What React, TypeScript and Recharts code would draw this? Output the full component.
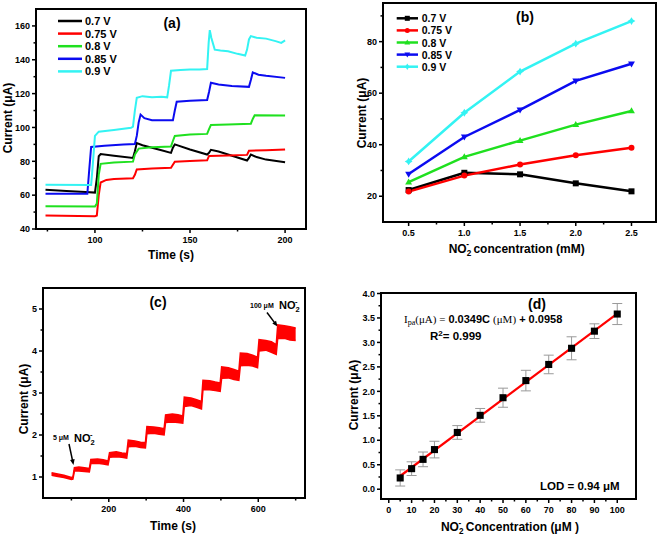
import {
  LineChart,
  Line,
  Area,
  ComposedChart,
  Scatter,
  ErrorBar,
  ZAxis,
  XAxis,
  YAxis,
  ReferenceArea,
} from "recharts";

const SANS = '"Liberation Sans", Arial, sans-serif';
const SERIF = '"Liberation Serif", "Times New Roman", serif';

// ---------- (a) amperometric traces at different potentials ----------
const A_X_TICKS = [75, 100, 125, 150, 175, 200];
const A_X_LABELS = [100, 150, 200];
const A_Y_TICKS = [40, 50, 60, 70, 80, 90, 100, 110, 120, 130, 140, 150, 160];
const A_Y_LABELS = [40, 60, 80, 100, 120, 140, 160];

const trace07: [number, number][] = [
  [74, 63.2], [85, 62.5], [95, 61.8], [100, 61.5], [101, 70], [102, 83], [103, 84.3],
  [110, 83.3], [120, 82], [121, 86], [122, 90.8], [125, 89.5], [135, 86.5], [140, 85],
  [141, 88], [142, 90], [150, 87], [159, 84], [160, 85], [161, 86.8], [165, 85.8],
  [170, 84], [180, 80.5], [181, 82], [182, 84], [185, 82.5], [190, 81], [200, 79.5],
];
const trace075: [number, number][] = [
  [74, 48], [100, 47.6], [101, 48], [102, 60], [103, 67.5], [106, 69], [110, 69.5],
  [120, 70], [121, 72], [122, 75.2], [130, 75.8], [140, 76.2], [141, 78], [142, 79.8],
  [150, 80.2], [159, 80.6], [160, 83.2], [170, 83.5], [180, 83.8], [181, 86.2],
  [190, 86.6], [200, 87],
];
const trace08: [number, number][] = [
  [74, 53.4], [100, 53.3], [101, 55], [102, 72], [103, 78.5], [110, 79.3], [120, 79.8],
  [121, 84], [123, 87.5], [130, 88.3], [140, 88.8], [141, 92], [142, 95], [150, 95.8],
  [159, 96.2], [160, 99], [161, 101.5], [170, 101.8], [182, 102.2], [183, 105],
  [184, 107.2], [200, 107],
];
const trace085: [number, number][] = [
  [74, 60.8], [96, 60.8], [97, 75], [98, 88.5], [105, 89.2], [115, 90], [121, 90.2],
  [122, 95], [123, 103], [124, 107.6], [126, 105.5], [130, 104.3], [141, 104.2],
  [142, 110], [143, 115.2], [150, 115.8], [159, 116.2], [160, 121], [161, 126.4],
  [165, 125.4], [172, 124.5], [181, 124], [182, 128], [183, 132.5], [186, 131.2],
  [190, 130.5], [200, 129.3],
];
const trace09: [number, number][] = [
  [74, 66.2], [98, 66], [99, 80], [100, 95], [102, 97.5], [110, 98.5], [119, 99.8],
  [120, 100.5], [121, 110], [122, 117.5], [125, 118.5], [130, 117.8], [135, 118.2],
  [138, 117.8], [139, 125], [140, 133.5], [145, 134], [150, 134.2], [155, 134.3],
  [159, 134.5], [159.8, 150], [160.4, 157.5], [161.2, 153], [163, 146], [166, 145.5],
  [170, 145], [175, 143.5], [179, 142.5], [180, 146], [181, 152], [182, 154],
  [185, 153], [190, 152.5], [195, 151], [198, 150], [200, 151.5],
];

// ---------- (b) current vs concentration ----------
const B_CONC = [0.5, 1.0, 1.5, 2.0, 2.5];
const b07 = [22.4, 29.1, 28.5, 25.0, 21.9];
const b075 = [21.8, 28.0, 32.3, 35.9, 38.8];
const b08 = [25.5, 35.3, 41.6, 47.8, 53.1];
const b085 = [28.6, 43.0, 53.5, 64.8, 71.4];
const b09 = [33.5, 52.4, 68.4, 79.2, 88.0];
const B_X_TICKS = [0.5, 0.75, 1.0, 1.25, 1.5, 1.75, 2.0, 2.25, 2.5];
const B_X_LABELS = [0.5, 1.0, 1.5, 2.0, 2.5];
const B_Y_TICKS = [20, 30, 40, 50, 60, 70, 80, 90];
const B_Y_LABELS = [20, 40, 60, 80];

// ---------- (c) amperometric response, noise band low/high ----------
const C_TIME = [
  47, 60, 80, 100, 104, 108, 120, 135, 148, 152, 170, 185, 198, 202, 220, 235, 248,
  252, 270, 285, 298, 302, 320, 335, 348, 352, 370, 385, 398, 402, 420, 435, 448,
  452, 470, 485, 498, 502, 520, 535, 548, 552, 570, 585, 598, 602, 620, 635, 648,
  652, 670, 685, 700,
];
const C_LOW = [
  1.04, 1.02, 0.99, 0.94, 0.95, 1.14, 1.14, 1.13, 1.12, 1.32, 1.33, 1.31, 1.29, 1.47,
  1.48, 1.47, 1.45, 1.72, 1.73, 1.7, 1.69, 2.03, 2.04, 2.02, 2.0, 2.3, 2.31, 2.3,
  2.28, 2.68, 2.7, 2.66, 2.62, 3.08, 3.08, 3.06, 3.04, 3.35, 3.36, 3.32, 3.3, 3.65,
  3.66, 3.64, 3.6, 4.0, 4.02, 3.97, 3.92, 4.3, 4.3, 4.26, 4.25,
];
const C_HIGH = [
  1.1, 1.08, 1.04, 0.99, 1.0, 1.22, 1.24, 1.22, 1.2, 1.42, 1.43, 1.41, 1.38, 1.58,
  1.6, 1.57, 1.56, 1.88, 1.86, 1.83, 1.82, 2.2, 2.19, 2.17, 2.15, 2.48, 2.5, 2.48,
  2.45, 2.9, 2.88, 2.84, 2.8, 3.3, 3.29, 3.26, 3.24, 3.62, 3.6, 3.56, 3.52, 3.95,
  3.94, 3.9, 3.85, 4.27, 4.25, 4.22, 4.15, 4.62, 4.6, 4.58, 4.55,
];
const C_X_TICKS = [100, 200, 300, 400, 500, 600, 700];
const C_X_LABELS = [200, 400, 600];
const C_Y_TICKS = [1, 1.5, 2, 2.5, 3, 3.5, 4, 4.5, 5];
const C_Y_LABELS = [1, 2, 3, 4, 5];

// ---------- (d) calibration ----------
const D_CONC = [5, 10, 15, 20, 30, 40, 50, 60, 70, 80, 90, 100];
const D_CURRENT = [0.23, 0.42, 0.61, 0.81, 1.16, 1.51, 1.87, 2.22, 2.55, 2.88, 3.23, 3.58];
const D_ERR = [0.165, 0.14, 0.15, 0.17, 0.14, 0.14, 0.195, 0.21, 0.19, 0.235, 0.15, 0.215];
const D_FIT_X = [5, 100];
const D_FIT_Y = [0.27, 3.59];
const D_X_TICKS = [0, 5, 10, 15, 20, 25, 30, 35, 40, 45, 50, 55, 60, 65, 70, 75, 80, 85, 90, 95, 100];
const D_X_LABELS = [0, 10, 20, 30, 40, 50, 60, 70, 80, 90, 100];
const D_Y_TICKS = [0, 0.25, 0.5, 0.75, 1, 1.25, 1.5, 1.75, 2, 2.25, 2.5, 2.75, 3, 3.25, 3.5, 3.75, 4];
const D_Y_LABELS = [0, 0.5, 1, 1.5, 2, 2.5, 3, 3.5, 4];

const isIn = (arr: number[], v: number) => arr.some((m) => Math.abs(m - v) < 1e-9);

function bottomTick(labels: number[], fmt: (v: number) => string) {
  return (p: any) => {
    const v = p.payload.value;
    const major = isIn(labels, v);
    return (
      <g>
        <line x1={p.x} x2={p.x} y1={p.y} y2={p.y + (major ? 4 : 2.5)} stroke="#000" strokeWidth={1.5} />
        {major && (
          <text x={p.x} y={p.y + 14} textAnchor="middle" fontSize={9} fontWeight="bold" fontFamily={SANS} fill="#000">
            {fmt(v)}
          </text>
        )}
      </g>
    );
  };
}

function leftTick(labels: number[], fmt: (v: number) => string) {
  return (p: any) => {
    const v = p.payload.value;
    const major = isIn(labels, v);
    return (
      <g>
        <line x1={p.x} x2={p.x - (major ? 4 : 2.5)} y1={p.y} y2={p.y} stroke="#000" strokeWidth={1.5} />
        {major && (
          <text x={p.x - 6} y={p.y + 3.2} textAnchor="end" fontSize={9} fontWeight="bold" fontFamily={SANS} fill="#000">
            {fmt(v)}
          </text>
        )}
      </g>
    );
  };
}

const axisCommon = {
  type: "number" as const,
  interval: 0 as const,
  allowDataOverflow: true,
  tickLine: false,
  axisLine: false,
  tickSize: 0,
  tickMargin: 0,
};

const titleStyle = { fontFamily: SANS, fontWeight: "bold" as const, fontSize: 12, fill: "#000" };

function YTitle({ x, y }: { x: number; y: number }) {
  return (
    <text x={x} y={y} transform={`rotate(-90 ${x} ${y})`} textAnchor="middle" dominantBaseline="central" {...titleStyle}>
      Current (μA)
    </text>
  );
}

// "NO2-" with subscript 2 and superscript minus, optional trailing text
function NO2({ size, rest }: { size: number; rest?: string }) {
  return (
    <>
      NO
      <tspan fontSize={size * 0.68} dy={size * 0.25}>2</tspan>
      <tspan fontSize={size * 0.68} dx={-size * 0.42} dy={-size * 0.7}>-</tspan>
      {rest && (
        <tspan dx={size * 0.1} dy={size * 0.45}>
          {"\u00a0" + rest}
        </tspan>
      )}
    </>
  );
}

function Frame({ x, y }: { x: number[]; y: number[] }) {
  return (
    <ReferenceArea
      x1={x[0]}
      x2={x[1]}
      y1={y[0]}
      y2={y[1]}
      fill="none"
      fillOpacity={0}
      stroke="#000"
      strokeWidth={2}
      ifOverflow="visible"
    />
  );
}

// ---------- panel (a) ----------
const A_SERIES = [
  { name: "0.7 V", color: "#000000", data: trace07 },
  { name: "0.75 V", color: "#ff0000", data: trace075 },
  { name: "0.8 V", color: "#1fe01f", data: trace08 },
  { name: "0.85 V", color: "#0b0bf0", data: trace085 },
  { name: "0.9 V", color: "#33f3f3", data: trace09 },
];
const A_XD = [69, 211];
const A_YD = [40, 170];

function PanelA() {
  return (
    <div style={{ position: "absolute", left: 0, top: 0 }}>
      <LineChart width={320} height={262} margin={{ top: 9, right: 14, bottom: 0, left: 0 }}>
        <XAxis {...axisCommon} dataKey="t" domain={A_XD} ticks={A_X_TICKS} height={33} tick={bottomTick(A_X_LABELS, String)} />
        <YAxis {...axisCommon} domain={A_YD} ticks={A_Y_TICKS} width={36} tick={leftTick(A_Y_LABELS, String)} />
        {A_SERIES.map((s) => (
          <Line
            key={s.name}
            data={s.data.map(([t, v]) => ({ t, v }))}
            dataKey="v"
            type="linear"
            stroke={s.color}
            strokeWidth={2}
            dot={false}
            isAnimationActive={false}
          />
        ))}
        <Frame x={A_XD} y={A_YD} />
        <g>
          {A_SERIES.map((s, i) => (
            <g key={s.name}>
              <line x1={58} x2={82} y1={21 + i * 12.6} y2={21 + i * 12.6} stroke={s.color} strokeWidth={2.5} />
              <text x={85} y={21 + i * 12.6 + 4} fontSize={11} fontWeight="bold" fontFamily={SANS}>
                {s.name}
              </text>
            </g>
          ))}
        </g>
        <text x={172} y={28} textAnchor="middle" fontSize={14} fontWeight="bold" fontFamily={SANS}>(a)</text>
        <YTitle x={8} y={118} />
        <text x={171} y={259} textAnchor="middle" {...titleStyle}>Time (s)</text>
      </LineChart>
    </div>
  );
}

// ---------- panel (b) ----------
type MarkerKind = "square" | "circle" | "up" | "down" | "diamond";
function Marker({ kind, cx, cy, color, r }: { kind: MarkerKind; cx: number; cy: number; color: string; r: number }) {
  if (kind === "square") return <rect x={cx - r} y={cy - r} width={2 * r} height={2 * r} fill={color} />;
  if (kind === "circle") return <circle cx={cx} cy={cy} r={r} fill={color} />;
  if (kind === "up")
    return <polygon points={`${cx},${cy - r * 1.2} ${cx + r * 1.15},${cy + r * 0.8} ${cx - r * 1.15},${cy + r * 0.8}`} fill={color} />;
  if (kind === "down")
    return <polygon points={`${cx},${cy + r * 1.2} ${cx + r * 1.15},${cy - r * 0.8} ${cx - r * 1.15},${cy - r * 0.8}`} fill={color} />;
  return (
    <polygon
      points={`${cx},${cy - r * 1.3} ${cx + r * 0.5},${cy - r * 0.5} ${cx + r * 1.3},${cy} ${cx + r * 0.5},${cy + r * 0.5} ${cx},${cy + r * 1.3} ${cx - r * 0.5},${cy + r * 0.5} ${cx - r * 1.3},${cy} ${cx - r * 0.5},${cy - r * 0.5}`}
      fill={color}
    />
  );
}

const B_SERIES: { key: string; name: string; color: string; kind: MarkerKind; values: number[] }[] = [
  { key: "s07", name: "0.7 V", color: "#000000", kind: "square", values: b07 },
  { key: "s075", name: "0.75 V", color: "#ff0000", kind: "circle", values: b075 },
  { key: "s08", name: "0.8 V", color: "#1fe01f", kind: "up", values: b08 },
  { key: "s085", name: "0.85 V", color: "#0b0bf0", kind: "down", values: b085 },
  { key: "s09", name: "0.9 V", color: "#33f3f3", kind: "diamond", values: b09 },
];
const B_ROWS = B_CONC.map((c, i) => {
  const row: Record<string, number> = { c };
  B_SERIES.forEach((s) => (row[s.key] = s.values[i]));
  return row;
});
const B_XD = [0.27, 2.72];
const B_YD = [10, 95];

function PanelB() {
  return (
    <div style={{ position: "absolute", left: 330, top: 0 }}>
      <LineChart width={331} height={260} data={B_ROWS} margin={{ top: 3, right: 5, bottom: 0, left: 0 }}>
        <XAxis {...axisCommon} dataKey="c" domain={B_XD} ticks={B_X_TICKS} height={38} tick={bottomTick(B_X_LABELS, (v) => v.toFixed(1))} />
        <YAxis {...axisCommon} domain={B_YD} ticks={B_Y_TICKS} width={53} tick={leftTick(B_Y_LABELS, String)} />
        {B_SERIES.map((s) => (
          <Line
            key={s.key}
            dataKey={s.key}
            type="linear"
            stroke={s.color}
            strokeWidth={2.5}
            dot={(p: any) => <Marker key={`${s.key}-${p.index}`} kind={s.kind} cx={p.cx} cy={p.cy} color={s.color} r={3} />}
            isAnimationActive={false}
          />
        ))}
        <Frame x={B_XD} y={B_YD} />
        <g>
          {B_SERIES.map((s, i) => {
            const yy = 18.3 + i * 12.1;
            return (
              <g key={s.key}>
                <line x1={66.7} x2={88} y1={yy} y2={yy} stroke={s.color} strokeWidth={2.5} />
                <Marker kind={s.kind} cx={77.3} cy={yy} color={s.color} r={2.5} />
                <text x={91.7} y={yy + 4} fontSize={10.5} fontWeight="bold" fontFamily={SANS}>
                  {s.name}
                </text>
              </g>
            );
          })}
        </g>
        <text x={195} y={22} textAnchor="middle" fontSize={14} fontWeight="bold" fontFamily={SANS}>(b)</text>
        <YTitle x={31.7} y={113} />
        <text x={186.7} y={252.5} textAnchor="middle" {...titleStyle}>
          <NO2 size={12} rest="concentration (mM)" />
        </text>
      </LineChart>
    </div>
  );
}

// ---------- panel (c) ----------
const C_ROWS = C_TIME.map((t, i) => ({ t, band: [C_LOW[i], C_HIGH[i]] }));
const C_XD = [24, 725];
const C_YD = [0.5, 5.5];
const C_MARGIN = { top: 26, right: 15, bottom: 0, left: 0 };
const C_W = 320;
const C_H = 273;
const C_YAXIS_W = 43;
const C_XAXIS_H = 37;

function Arrow({ x1, y1, x2, y2 }: { x1: number; y1: number; x2: number; y2: number }) {
  const a = Math.atan2(y2 - y1, x2 - x1);
  const h = 6;
  const p1 = [x2 - h * Math.cos(a - 0.4), y2 - h * Math.sin(a - 0.4)];
  const p2 = [x2 - h * Math.cos(a + 0.4), y2 - h * Math.sin(a + 0.4)];
  return (
    <g>
      <line x1={x1} y1={y1} x2={x2 - 3 * Math.cos(a)} y2={y2 - 3 * Math.sin(a)} stroke="#000" strokeWidth={1.5} />
      <polygon points={`${x2},${y2} ${p1[0]},${p1[1]} ${p2[0]},${p2[1]}`} fill="#000" />
    </g>
  );
}

function PanelC() {
  const l = C_MARGIN.left + C_YAXIS_W;
  const t = C_MARGIN.top;
  const r = C_W - C_MARGIN.right;
  const b = C_H - C_MARGIN.bottom - C_XAXIS_H;
  return (
    <div style={{ position: "absolute", left: 0, top: 262, width: C_W, height: C_H }}>
      <ComposedChart width={C_W} height={C_H} data={C_ROWS} margin={C_MARGIN}>
        <XAxis {...axisCommon} dataKey="t" domain={C_XD} ticks={C_X_TICKS} height={C_XAXIS_H} tick={bottomTick(C_X_LABELS, String)} />
        <YAxis {...axisCommon} domain={C_YD} ticks={C_Y_TICKS} width={C_YAXIS_W} tick={leftTick(C_Y_LABELS, String)} />
        <Area
          dataKey="band"
          type="linear"
          stroke="#ff0000"
          strokeWidth={1.5}
          fill="#ff0000"
          fillOpacity={1}
          dot={false}
          activeDot={false}
          isAnimationActive={false}
        />
        <Frame x={C_XD} y={C_YD} />
        <text x={158} y={45} textAnchor="middle" fontSize={14} fontWeight="bold" fontFamily={SANS}>(c)</text>
        <text x={53} y={178} fontSize={7} fontWeight="bold" fontFamily={SANS}>5 μM</text>
        <text x={74} y={180} fontSize={11} fontWeight="bold" fontFamily={SANS}>
          <NO2 size={11} />
        </text>
        <Arrow x1={69} y1={182} x2={73.5} y2={203} />
        <text x={250} y={46} fontSize={7} fontWeight="bold" fontFamily={SANS}>100 μM</text>
        <text x={279} y={47} fontSize={11} fontWeight="bold" fontFamily={SANS}>
          <NO2 size={11} />
        </text>
        <Arrow x1={267} y1={50.5} x2={277.5} y2={64.5} />
        <YTitle x={24} y={137} />
        <text x={173} y={268} textAnchor="middle" {...titleStyle}>Time (s)</text>
      </ComposedChart>
      {/* plot frame, drawn over the chart */}
      <div
        style={{
          position: "absolute",
          zIndex: 10,
          left: l - 1,
          top: t - 1,
          width: r - l + 2,
          height: b - t + 2,
          border: "2px solid #000",
          boxSizing: "border-box",
          pointerEvents: "none",
        }}
      />
    </div>
  );
}

// ---------- panel (d) ----------
const D_POINTS = D_CONC.map((x, i) => ({ x, y: D_CURRENT[i], e: D_ERR[i] }));
const D_FIT = D_FIT_X.map((x, i) => ({ x, y: D_FIT_Y[i] }));
const D_XD = [-3.4, 108.2];
const D_YD = [-0.2, 4.01];

function PanelD() {
  return (
    <div style={{ position: "absolute", left: 330, top: 262 }}>
      <ComposedChart width={331} height={273} margin={{ top: 31, right: 25, bottom: 0, left: 0 }}>
        <XAxis {...axisCommon} dataKey="x" domain={D_XD} ticks={D_X_TICKS} height={36} tick={bottomTick(D_X_LABELS, String)} />
        <YAxis {...axisCommon} domain={D_YD} ticks={D_Y_TICKS} width={51} tick={leftTick(D_Y_LABELS, (v) => v.toFixed(1))} />
        <ZAxis range={[50, 50]} />
        <Scatter data={D_POINTS} dataKey="y" fill="#000" shape="square" isAnimationActive={false}>
          <ErrorBar dataKey="e" direction="y" width={5} stroke="#9a9a9a" strokeWidth={1} />
        </Scatter>
        <Line data={D_FIT} dataKey="y" type="linear" stroke="#ff0000" strokeWidth={2.2} dot={false} isAnimationActive={false} />
        <Frame x={D_XD} y={D_YD} />
        <text x={207} y={46.5} textAnchor="middle" fontSize={14} fontWeight="bold" fontFamily={SANS}>(d)</text>
        <text x={74} y={61} fontSize={11} fill="#000">
          <tspan fontFamily={SERIF}>I</tspan>
          <tspan fontFamily={SERIF} fontSize={8} dy={2}>pa</tspan>
          <tspan fontFamily={SERIF} dy={-2}>(μA) =</tspan>
          <tspan fontFamily={SANS} fontWeight="bold"> 0.0349C </tspan>
          <tspan fontFamily={SERIF}>(μM)</tspan>
          <tspan fontFamily={SANS} fontWeight="bold"> + 0.0958</tspan>
        </text>
        <text x={100} y={78} fontSize={11.5} fontWeight="bold" fontFamily={SANS}>
          R<tspan fontSize={8} dy={-4}>2</tspan>
          <tspan dy={4}>= 0.999</tspan>
        </text>
        <text x={210} y={228} fontSize={11.5} fontWeight="bold" fontFamily={SANS}>LOD = 0.94 μM</text>
        <YTitle x={24.3} y={133} />
        <text x={180} y={269} textAnchor="middle" {...titleStyle}>
          <NO2 size={12} rest="Concentration (μM )" />
        </text>
      </ComposedChart>
    </div>
  );
}

export default function App() {
  return (
    <div style={{ position: "absolute", left: 0, top: 0, width: 661, height: 535, background: "#fff", fontFamily: SANS }}>
      <PanelA />
      <PanelB />
      <PanelC />
      <PanelD />
    </div>
  );
}
